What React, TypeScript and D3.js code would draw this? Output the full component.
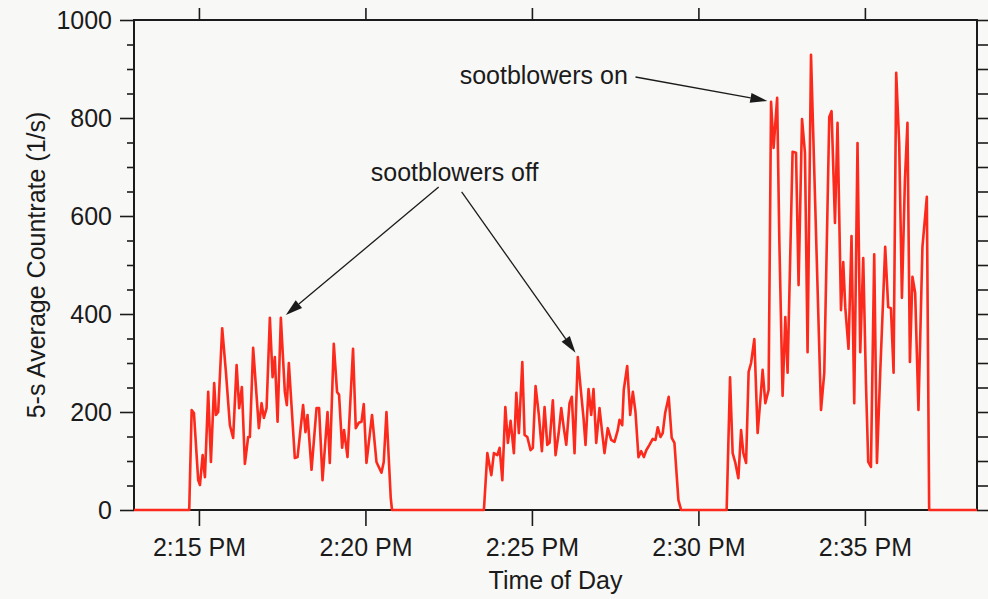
import React, { useEffect, useRef } from "react";
import * as d3 from "d3";

// 5-s average count rate samples, seconds past 2:00 PM and counts per second.
const burst1Sec = [882.5, 886.9, 891, 898.7, 901.8, 906.7, 910.8, 916.7, 921.6, 927.5, 930.6, 934.7, 941.9, 948.6, 955.8, 961.7, 967.9, 972.5, 977.4, 982.8, 988.7, 991.8, 997.7, 1008, 1012.9, 1017, 1021.9, 1027.8, 1032.7, 1036.8, 1041.7, 1047.6, 1054.8, 1058.4, 1062, 1072.8, 1077.7, 1087.7, 1092, 1095.7, 1102.9, 1111.9, 1116.5, 1122.7, 1131.7, 1135.8, 1143, 1148.9, 1152.5, 1158, 1161.5, 1167.7, 1177.7, 1182.6, 1188, 1192.9, 1197, 1201.9, 1211.9, 1219.9, 1228.9, 1233, 1237.9, 1245.6, 1247.9];
const burst1Val = [0, 204, 198, 61, 51, 112, 67, 241, 98, 259, 194, 200, 371, 282, 173, 147, 296, 208, 251, 94, 149, 149, 331, 167, 218, 188, 208, 392, 271, 312, 180, 392, 241, 214, 300, 106, 108, 214, 159, 194, 82, 208, 208, 61, 200, 96, 339, 241, 235, 127, 163, 108, 329, 167, 178, 180, 216, 96, 194, 98, 76, 98, 200, 25, 0];

const burst2Sec = [1413.5, 1419.7, 1426.9, 1431.5, 1437.7, 1441.8, 1446.7, 1452.1, 1456.7, 1461.6, 1467.5, 1471.9, 1476.5, 1482.7, 1486.8, 1491.7, 1497.6, 1501.7, 1506.6, 1512.5, 1518, 1522.8, 1527.7, 1531.8, 1537.7, 1542.6, 1548, 1552.9, 1557.5, 1561.9, 1567.8, 1571.9, 1576.8, 1582.7, 1587.6, 1593, 1596.6, 1602, 1606.9, 1611, 1615.9, 1621.8, 1626.7, 1630.8, 1636.7, 1642.9, 1648.8, 1654.7, 1657.8, 1662.7, 1665.5, 1671.7, 1677.1, 1681.9, 1686.6, 1692, 1696.9, 1701.7, 1706.1, 1711.8, 1717.7, 1722.6, 1726.7, 1731.6, 1735.7, 1740.1, 1746.5, 1751.9, 1756.8, 1764, 1768.9];
const burst2Val = [0, 116, 71, 116, 112, 127, 61, 210, 137, 182, 116, 239, 157, 302, 153, 149, 122, 127, 253, 194, 120, 210, 133, 137, 224, 112, 155, 208, 167, 133, 218, 231, 116, 312, 251, 188, 133, 247, 194, 247, 137, 208, 157, 116, 167, 143, 139, 163, 184, 173, 245, 294, 194, 241, 200, 108, 120, 108, 122, 133, 145, 143, 169, 149, 157, 198, 231, 147, 137, 20, 0];

const burst3Sec = [1850.9, 1857, 1861.7, 1866.6, 1872, 1876.9, 1881, 1885.9, 1890.5, 1894.9, 1900.8, 1906.7, 1911.6, 1915.7, 1920.6, 1926.5, 1930.9, 1935.5, 1941.9, 1945.8, 1951.7, 1956.6, 1960.7, 1969.7, 1975.9, 1980.5, 1986.7, 1992, 1996.7, 2002.9, 2010.6, 2020.9, 2026.8, 2035.8, 2039.9, 2046.1, 2050.7, 2056.9, 2061, 2064.6, 2070.5, 2075.9, 2080.8, 2086.7, 2091.6, 2097, 2101.9, 2106, 2110.9, 2116.8, 2121.7, 2127.6, 2136.6, 2142, 2146.9, 2151.7, 2156.4, 2161.8, 2166.7, 2172.1, 2176.7, 2181.1, 2185.7, 2190.6, 2196.5, 2203.7, 2211.6, 2215.8];
const burst3Val = [0, 271, 116, 96, 65, 163, 116, 96, 282, 300, 349, 157, 224, 286, 218, 245, 833, 739, 841, 551, 233, 394, 280, 731, 729, 459, 798, 729, 322, 929, 619, 204, 280, 802, 814, 586, 790, 408, 506, 414, 329, 559, 218, 749, 322, 514, 259, 98, 88, 522, 96, 280, 537, 414, 412, 280, 892, 749, 433, 673, 790, 302, 476, 443, 204, 537, 639, 0];

// Axis settings
const timeDomainSec = [783, 2302];
const countDomain = [0, 1000];
const xTickMinutes = [15, 20, 25, 30, 35];
const yMajorTicks = [0, 200, 400, 600, 800, 1000];
const yMinorTicks = [50, 100, 150, 250, 300, 350, 450, 500, 550, 650, 700, 750, 850, 900, 950];
const yAllTicks = d3.range(0, 1001, 50);

const BASE = new Date(2000, 0, 1, 14, 0, 0).getTime();
const toDate = (s: number) => new Date(BASE + s * 1000);

const W = 988;
const H = 599;
const M = { left: 134, right: 977, top: 20, bottom: 510 };
const FONT = "'Liberation Sans', Arial, Helvetica, sans-serif";
const INK = "#1b1b1b";
const RED = "#fb2a1c";

export default function App() {
  const ref = useRef<SVGSVGElement | null>(null);

  useEffect(() => {
    const svg = d3.select(ref.current);
    svg.selectAll("*").remove();

    const x = d3.scaleTime().domain(timeDomainSec.map(toDate) as [Date, Date]).range([M.left, M.right]);
    const y = d3.scaleLinear().domain(countDomain).range([M.bottom, M.top]);

    svg.append("rect").attr("width", W).attr("height", H).attr("fill", "#f8f8f6");

    const styleAxis = (g: d3.Selection<SVGGElement, unknown, null, undefined>) => {
      g.select(".domain").remove();
      g.selectAll(".tick line").attr("stroke", INK).attr("stroke-width", 1.6);
      g.selectAll(".tick text").attr("fill", INK).attr("font-family", FONT).attr("font-size", 25);
    };

    // Left axis: labelled majors every 200, short minors every 50
    svg.append("g").attr("transform", `translate(${M.left},0)`)
      .call(d3.axisLeft(y).tickValues(yMajorTicks).tickSize(14).tickSizeOuter(0).tickPadding(8)
        .tickFormat(d3.format("d")))
      .call(styleAxis);
    svg.append("g").attr("transform", `translate(${M.left},0)`)
      .call(d3.axisLeft(y).tickValues(yMinorTicks).tickSize(7).tickSizeOuter(0).tickFormat(() => ""))
      .call(styleAxis);

    // Right axis: unlabelled ticks every 50
    svg.append("g").attr("transform", `translate(${M.right},0)`)
      .call(d3.axisRight(y).tickValues(yAllTicks).tickSize(12).tickSizeOuter(0).tickFormat(() => ""))
      .call(styleAxis);

    const xTicks = xTickMinutes.map((m) => toDate(m * 60));
    svg.append("g").attr("transform", `translate(0,${M.bottom})`)
      .call(d3.axisBottom(x).tickValues(xTicks).tickSize(16).tickSizeOuter(0).tickPadding(12)
        .tickFormat((d) => d3.timeFormat("%-I:%M %p")(d as Date)))
      .call(styleAxis);
    svg.append("g").attr("transform", `translate(0,${M.top})`)
      .call(d3.axisTop(x).tickValues(xTicks).tickSize(12).tickSizeOuter(0).tickFormat(() => ""))
      .call(styleAxis);

    // Frame
    svg.append("rect")
      .attr("x", M.left).attr("y", M.top)
      .attr("width", M.right - M.left).attr("height", M.bottom - M.top)
      .attr("fill", "none").attr("stroke", INK).attr("stroke-width", 2);

    // Count-rate trace
    const series: [number, number][] = [[timeDomainSec[0], 0]];
    [[burst1Sec, burst1Val], [burst2Sec, burst2Val], [burst3Sec, burst3Val]].forEach(([ts, vs]) => {
      ts.forEach((s, i) => series.push([s, vs[i]]));
    });
    series.push([timeDomainSec[1], 0]);

    const line = d3.line<[number, number]>()
      .x((d) => x(toDate(d[0])))
      .y((d) => y(d[1]));
    svg.append("path").datum(series).attr("d", line)
      .attr("fill", "none").attr("stroke", RED).attr("stroke-width", 2.6)
      .attr("stroke-linejoin", "round");

    // Axis titles
    svg.append("text")
      .attr("x", (M.left + M.right) / 2).attr("y", 589)
      .attr("text-anchor", "middle").attr("font-family", FONT).attr("font-size", 25).attr("fill", INK)
      .text("Time of Day");
    svg.append("text")
      .attr("transform", `translate(45,${(M.top + M.bottom) / 2}) rotate(-90)`)
      .attr("text-anchor", "middle").attr("font-family", FONT).attr("font-size", 25).attr("fill", INK)
      .text("5-s Average Countrate (1/s)");

    // Annotations, placed in data coordinates
    const P = (s: number, v: number): [number, number] => [x(toDate(s)), y(v)];
    const arrow = (from: [number, number], to: [number, number]) => {
      const [x0, y0] = from;
      const [x1, y1] = to;
      const ang = Math.atan2(y1 - y0, x1 - x0);
      const len = 17;
      const half = 5;
      const bx = x1 - len * Math.cos(ang);
      const by = y1 - len * Math.sin(ang);
      svg.append("line").attr("x1", x0).attr("y1", y0).attr("x2", bx).attr("y2", by)
        .attr("stroke", INK).attr("stroke-width", 1.3);
      const pts = [
        [x1, y1],
        [bx + half * Math.sin(ang), by - half * Math.cos(ang)],
        [bx - half * Math.sin(ang), by + half * Math.cos(ang)],
      ];
      svg.append("polygon").attr("points", pts.map((p) => p.join(",")).join(" ")).attr("fill", INK);
    };

    const [onX, onY] = P(1369.8, 869);
    svg.append("text").attr("x", onX).attr("y", onY)
      .attr("font-family", FONT).attr("font-size", 25).attr("fill", INK).text("sootblowers on");
    arrow(P(1686.6, 883.7), P(1924.2, 834.7));

    const [offX, offY] = P(1209.6, 671);
    svg.append("text").attr("x", offX).attr("y", offY)
      .attr("font-family", FONT).attr("font-size", 25).attr("fill", INK).text("sootblowers off");
    arrow(P(1332, 659), P(1056.6, 398));
    arrow(P(1373.4, 649), P(1578.6, 321));
  }, []);

  return (
    <svg
      ref={ref}
      width={W}
      height={H}
      style={{ position: "fixed", left: 0, top: 0, display: "block" }}
    />
  );
}
